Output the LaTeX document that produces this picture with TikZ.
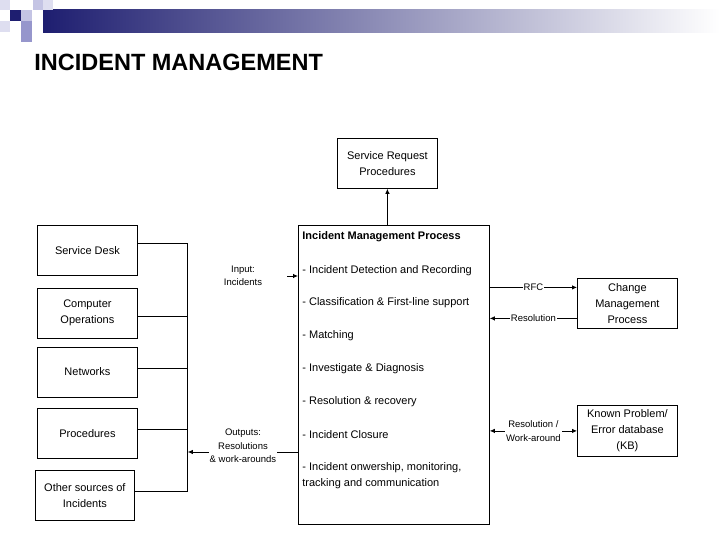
\documentclass[tikz,border=0pt]{standalone}
\usepackage{fontspec}
\setmainfont{Liberation Sans}
\usepackage{xcolor}
\usepackage{tikz}
\usetikzlibrary{positioning,arrows.meta}

\definecolor{barnavy}{RGB}{30,30,112}
\definecolor{sqlight}{RGB}{222,222,240}
\definecolor{sqmid}{RGB}{196,196,228}
\definecolor{sqdark}{RGB}{150,150,204}

\begin{document}
\begin{tikzpicture}[
    x=1pt, y=-1pt,
    line width=0.8pt,
    node distance=12pt,
    box/.style={rectangle, draw, minimum width=100pt, minimum height=50pt, align=center, inner sep=2pt, font=\fontsize{11}{16}\selectfont},
    item/.style={anchor=west, inner sep=0pt, align=left, font=\fontsize{11}{16}\selectfont},
    flowlabel/.style={align=center, fill=white, inner sep=1pt, font=\fontsize{9.5}{13.5}\selectfont},
    arrow/.style={-{Latex[length=5pt,width=4.5pt]}},
    twoway/.style={{Latex[length=5pt,width=4.5pt]}-{Latex[length=5pt,width=4.5pt]}}
]
    \useasboundingbox (0,0) rectangle (720,540);

    % header bar and squares
    \shade[left color=barnavy, right color=white] (43,10) rectangle (720,33);
    \fill[sqlight] (0,0) rectangle (10,10);
    \fill[sqmid] (33,0) rectangle (43,10);
    \fill[sqlight] (43,0) rectangle (53,10);
    \fill[barnavy] (10,10) rectangle (21,21);
    \fill[sqmid] (21,10) rectangle (32,21);
    \fill[sqlight] (0,21) rectangle (10,32);
    \fill[sqdark] (21,21) rectangle (32,32);
    \fill[sqdark] (21,32) rectangle (32,42);

    \node[anchor=west, inner sep=0pt, font=\bfseries\fontsize{23.5}{28}\selectfont] (title) at (34,62) {INCIDENT MANAGEMENT};

    % sources
    \node[box, anchor=north west] (desk) at (37,225) {Service Desk};
    \node[box, below=12pt of desk] (compops) {Computer\\Operations};
    \node[box, below=8pt of compops] (networks) {Networks};
    \node[box, below=11pt of networks] (procs) {Procedures};
    \node[box, anchor=north west, minimum width=99pt] (other) at (35,470) {Other sources of\\Incidents};

    % main process
    \node[draw, rectangle, anchor=north west, minimum width=191pt, minimum height=299pt] (imp) at (298,225) {};
    \node[item, font=\bfseries\fontsize{11}{16}\selectfont] (imptitle) at (302,237) {Incident Management Process};
    \node[item] (detect) at (302,271) {- Incident Detection and Recording};
    \node[item] (classify) at (302,303) {- Classification \& First-line support};
    \node[item] (match) at (302,336) {- Matching};
    \node[item] (diagnose) at (302,369) {- Investigate \& Diagnosis};
    \node[item] (recover) at (302,402) {- Resolution \& recovery};
    \node[item] (closure) at (302,435) {- Incident Closure};
    \node[item] (owner) at (302,476) {- Incident onwership, monitoring,\\tracking and communication};

    % targets
    \node[box, anchor=north west] (srp) at (337,138) {Service Request\\Procedures};
    \node[box, anchor=north west] (chg) at (577,278) {Change\\Management\\Process};
    \node[box, anchor=north west, minimum height=51pt] (kb) at (577,405) {Known Problem/\\Error database\\(KB)};

    % bus from the sources
    \draw ([yshift=7pt]desk.east) -- ++(50,0) coordinate (bustop);
    \draw ([yshift=4.5pt]other.east) -| (bustop);
    \draw ([yshift=-3.5pt]compops.east) -- ([yshift=-3.5pt]compops.east -| bustop);
    \draw ([yshift=4pt]networks.east) -- ([yshift=4pt]networks.east -| bustop);
    \draw ([yshift=4.5pt]procs.east) -- ([yshift=4.5pt]procs.east -| bustop);

    % input and outputs
    \coordinate (inpt) at (287,276);
    \draw[arrow] (inpt) -- (inpt -| imp.west);
    \node[flowlabel, fill=none] (inlab) at (243,276) {Input:\\Incidents};
    \coordinate (outpt) at (298,452);
    \draw[arrow] (outpt) -- (outpt -| bustop);
    \node[flowlabel] (outlab) at (243,446) {Outputs:\\Resolutions\\\& work-arounds};

    \draw[arrow] (srp.south |- imp.north) -- (srp.south);

    \draw[arrow] ([yshift=16pt]chg.west -| imp.east) -- ([yshift=16pt]chg.west)
        node[flowlabel, midway] (rfc) {RFC};
    \draw[arrow] ([yshift=-15pt]chg.west) -- ([yshift=-15pt]chg.west -| imp.east)
        node[flowlabel, midway] (chgres) {Resolution};
    \draw[twoway] (kb.west -| imp.east) -- (kb.west)
        node[flowlabel, midway] (kbres) {Resolution /\\Work-around};
\end{tikzpicture}
\end{document}
